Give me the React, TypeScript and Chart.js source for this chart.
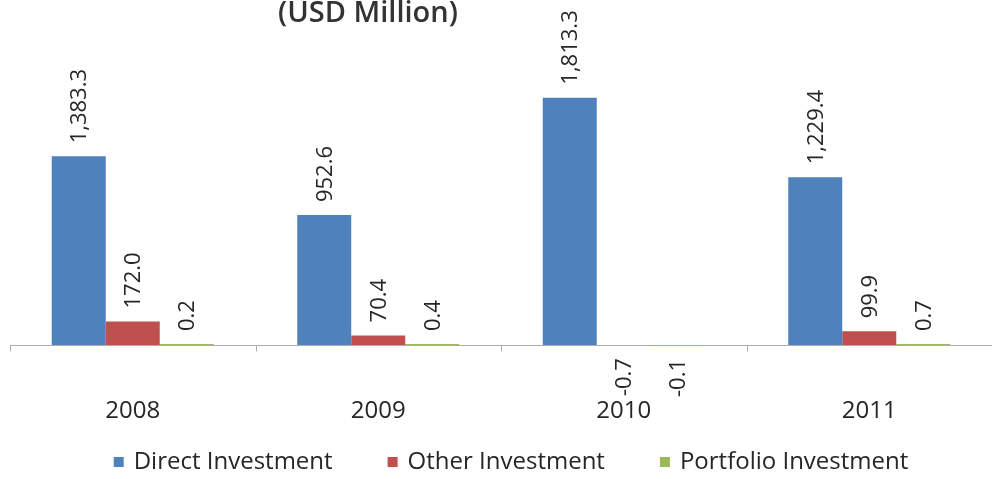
import React, { useEffect, useRef } from "react";
import { Chart, registerables } from "chart.js";

Chart.register(...registerables);

const categories = ["2008", "2009", "2010", "2011"];
const directInvestment = [1383.3, 952.6, 1813.3, 1229.4];
const otherInvestment = [172.0, 70.4, -0.7, 99.9];
const portfolioInvestment = [0.2, 0.4, -0.1, 0.7];
const seriesNames = ["Direct Investment", "Other Investment", "Portfolio Investment"];
const seriesColors = ["#4F81BD", "#C0504D", "#9BBB59"];
const titleText = "(USD Million)";

const FONT = "'Open Sans', sans-serif";
const TEXT_COLOR = "#262626";
const LABEL_SIZE = 22;
const TICK_SIZE = 24;
const LEGEND_SIZE = 24;

const fmt = (v: number) =>
  v.toLocaleString("en-US", { minimumFractionDigits: 1, maximumFractionDigits: 1 });

const decorPlugin = {
  id: "excelDecor",
  beforeDatasetsDraw(chart: any) {
    const { ctx, chartArea, scales } = chart;
    const xs = scales.x;
    const ys = scales.y;
    const y0 = Math.round(ys.getPixelForValue(0)) + 0.5;
    ctx.save();
    ctx.strokeStyle = "#ADADAD";
    ctx.lineWidth = 1;
    ctx.beginPath();
    ctx.moveTo(chartArea.left, y0);
    ctx.lineTo(chartArea.right, y0);
    for (let i = 0; i <= categories.length; i++) {
      const px = Math.round(xs.getPixelForValue(i - 0.5)) + 0.5;
      ctx.moveTo(px, y0);
      ctx.lineTo(px, y0 + 6);
    }
    ctx.stroke();
    ctx.restore();
  },
  afterDatasetsDraw(chart: any) {
    const { ctx } = chart;
    ctx.save();
    ctx.fillStyle = TEXT_COLOR;
    ctx.font = `${LABEL_SIZE}px ${FONT}`;
    ctx.textBaseline = "middle";
    chart.data.datasets.forEach((ds: any, di: number) => {
      const meta = chart.getDatasetMeta(di);
      meta.data.forEach((el: any, i: number) => {
        const v = ds.data[i];
        const gap = 13;
        ctx.save();
        if (v >= 0) {
          ctx.translate(el.x + 1, el.y - gap);
          ctx.rotate(-Math.PI / 2);
          ctx.textAlign = "left";
        } else {
          ctx.translate(el.x + 1, el.y + gap);
          ctx.rotate(-Math.PI / 2);
          ctx.textAlign = "right";
        }
        ctx.fillText(fmt(v), 0, 0);
        ctx.restore();
      });
    });
    ctx.restore();
  },
  afterDraw(chart: any) {
    const { ctx } = chart;
    ctx.save();
    // title
    ctx.fillStyle = "#333333";
    ctx.font = `600 29px ${FONT}`;
    ctx.textAlign = "center";
    ctx.textBaseline = "middle";
    ctx.fillText(titleText, 368, 14);
    // legend
    ctx.font = `${LEGEND_SIZE}px ${FONT}`;
    ctx.textAlign = "left";
    const items = chart.data.datasets.map((ds: any) => ({
      text: ds.label as string,
      color: ds.backgroundColor as string,
      w: ctx.measureText(ds.label).width,
    }));
    const box = 10;
    const boxGap = 10;
    const itemGap = 55;
    const total =
      items.reduce((s: number, it: any) => s + box + boxGap + it.w, 0) + itemGap * (items.length - 1);
    let cx = 511 - total / 2;
    const ly = 462;
    items.forEach((it: any) => {
      ctx.fillStyle = it.color;
      ctx.fillRect(cx, ly - box / 2, box, box);
      ctx.fillStyle = TEXT_COLOR;
      ctx.fillText(it.text, cx + box + boxGap, ly);
      cx += box + boxGap + it.w + itemGap;
    });
    ctx.restore();
  },
};

export default function App() {
  const ref = useRef<HTMLCanvasElement | null>(null);
  useEffect(() => {
    if (!ref.current) return;
    const seriesData = [directInvestment, otherInvestment, portfolioInvestment];
    const chart = new Chart(ref.current, {
      type: "bar",
      data: {
        labels: categories,
        datasets: seriesNames.map((name, i) => ({
          label: name,
          data: seriesData[i],
          backgroundColor: seriesColors[i],
          borderWidth: 0,
          categoryPercentage: 0.66,
          barPercentage: 1,
          minBarLength: i === 2 ? 1 : 0,
        })),
      },
      options: {
        responsive: false,
        animation: false,
        devicePixelRatio: 1,
        layout: { padding: { left: 10, right: -2, top: 4, bottom: 54 } },
        plugins: {
          legend: { display: false },
          title: { display: false },
          tooltip: { enabled: false },
        },
        scales: {
          x: {
            grid: { display: false, drawTicks: false },
            border: { display: false },
            ticks: { font: { family: FONT, size: TICK_SIZE }, color: TEXT_COLOR, padding: 7 },
            afterFit: (s: any) => {
              s.height = 35;
            },
          },
          y: { display: false, min: -330, max: 2500 },
        },
      },
      plugins: [decorPlugin],
    });
    return () => chart.destroy();
  }, []);
  return (
    <div style={{ position: "absolute", left: 0, top: 0, width: 992, height: 479, background: "#fff" }}>
      <canvas ref={ref} width={992} height={479} style={{ display: "block" }} />
    </div>
  );
}
